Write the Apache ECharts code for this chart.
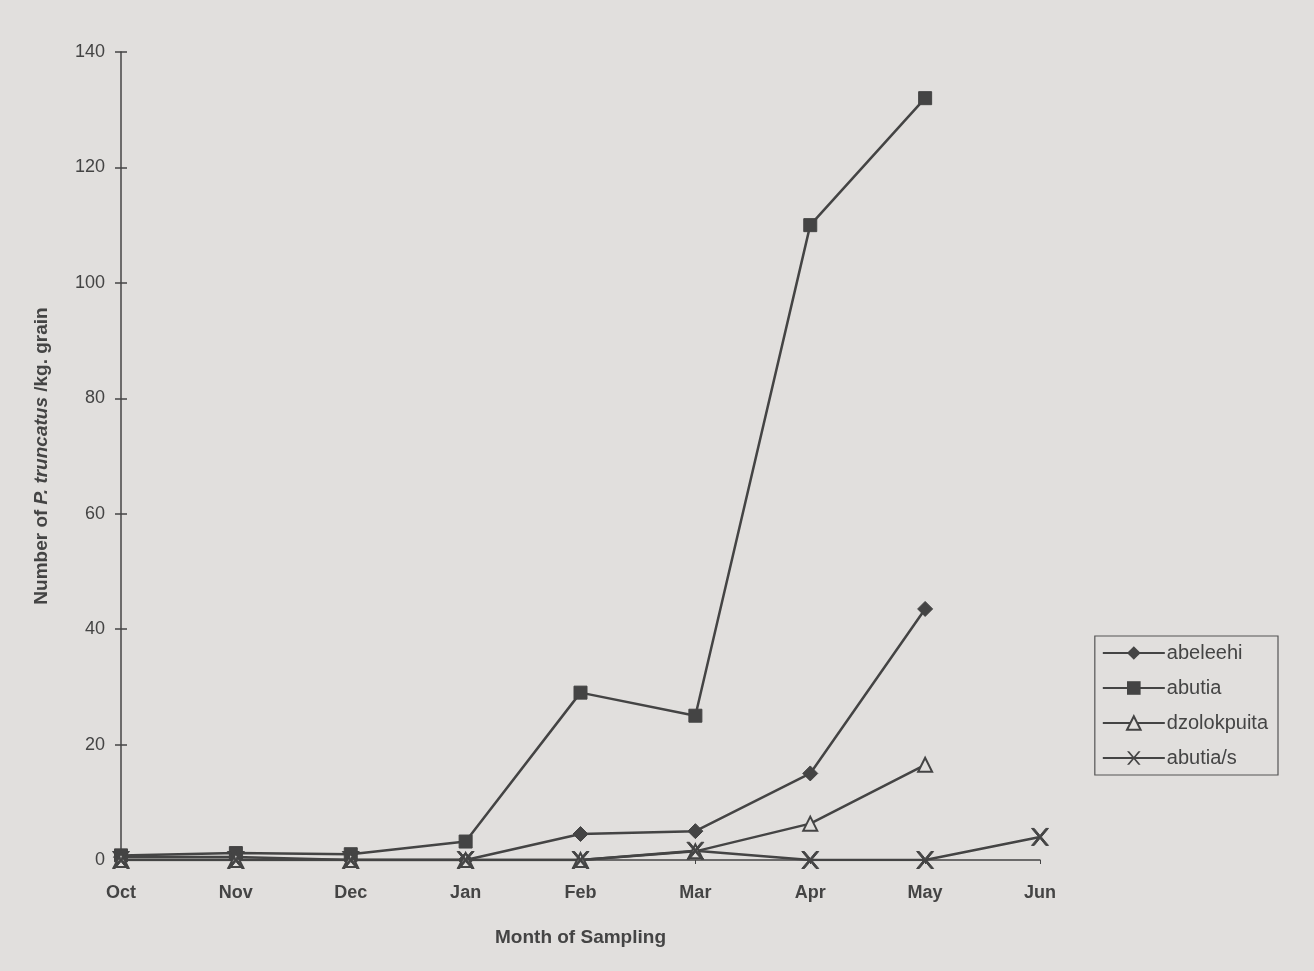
<!DOCTYPE html>
<html><head><meta charset="utf-8">
<script src="https://cdn.jsdelivr.net/npm/echarts@6/dist/echarts.min.js"></script>
<style>html,body{margin:0;padding:0;background:#e1dfdd;}#c{width:1314px;height:971px;}</style>
</head><body><div id="c"></div>
<script>
const months = ['Oct','Nov','Dec','Jan','Feb','Mar','Apr','May','Jun'];
const abeleehi = [0.5, 0.5, 0, 0, 4.5, 5, 15, 43.5, null];
const abutia = [0.8, 1.2, 1, 3.2, 29, 25, 110, 132, null];
const dzolokpuita = [0, 0, 0, 0, 0, 1.5, 6.3, 16.5, null];
const abutiaS = [0, 0, 0, 0, 0, 1.6, 0, 0, 4];
const yTicks = [0, 20, 40, 60, 80, 100, 120, 140];

const ink = '#444';
const xPath = 'path://M0,0 L1.6,0 L5,3.3 L8.4,0 L10,0 L5.8,4 L10,8 L8.4,8 L5,4.7 L1.6,8 L0,8 L4.2,4 Z';
function mk(name, data, symbol, size, extra) {
  return Object.assign({
    name, type: 'line', data, symbol, symbolSize: size,
    lineStyle: { color: ink, width: 2.5 },
    itemStyle: { color: ink, borderColor: ink },
    connectNulls: false, animation: false
  }, extra || {});
}
const chart = echarts.init(document.getElementById('c'));
chart.setOption({
  backgroundColor: '#e1dfdd',
  textStyle: { fontFamily: 'Liberation Sans, Arial, sans-serif' },
  grid: { left: 121, right: 274, top: 52, bottom: 111 },
  legend: {
    orient: 'vertical', right: 36, top: 636,
    itemWidth: 62, itemHeight: 17, itemGap: 15,
    padding: [7, 10, 7, 7],
    backgroundColor: '#e1dfdd', borderColor: '#555', borderWidth: 1.2,
    textStyle: { color: ink, fontSize: 20, padding: [0, 0, 0, -3] },
    data: ['abeleehi', 'abutia', 'dzolokpuita', 'abutia/s']
  },
  xAxis: {
    type: 'category', data: months, boundaryGap: false,
    name: 'Month of Sampling', nameLocation: 'middle', nameGap: 68,
    nameTextStyle: { color: ink, fontSize: 19, fontWeight: 'bold' },
    axisLine: { lineStyle: { color: ink, width: 1.5 } },
    axisTick: { show: true, alignWithLabel: true, length: 4, lineStyle: { color: ink } },
    axisLabel: { color: ink, fontSize: 18, margin: 24, fontWeight: 'bold' }
  },
  yAxis: [{
    type: 'value', min: 0, max: 140, interval: 20,
    name: '{b|Number of }{i|P. truncatus}{b| /kg. grain}',
    nameLocation: 'middle', nameGap: 70, nameRotate: 90,
    nameTextStyle: { rich: {
      b: { fontSize: 19, fontWeight: 'bold', color: ink },
      i: { fontSize: 19, fontWeight: 'bold', fontStyle: 'italic', color: ink }
    } },
    axisLine: { show: true, lineStyle: { color: ink, width: 1.5 } },
    axisTick: { show: true, length: 6, lineStyle: { color: ink, width: 1.5 } },
    axisLabel: { color: ink, fontSize: 18, margin: 16,
      formatter: v => yTicks.includes(v) ? String(v) : '' },
    splitLine: { show: false }
  }, {
    type: 'value', min: 0, max: 140, interval: 20, position: 'left',
    axisLine: { show: false },
    axisTick: { show: true, inside: true, length: 6, lineStyle: { color: ink, width: 1.5 } },
    axisLabel: { show: false }, splitLine: { show: false }
  }],
  series: [
    mk('abeleehi', abeleehi, 'diamond', 15),
    mk('abutia', abutia, 'rect', 13),
    mk('dzolokpuita', dzolokpuita, 'triangle', 14,
      { itemStyle: { color: '#e1dfdd', borderColor: ink, borderWidth: 2 } }),
    mk('abutia/s', abutiaS, xPath, 17)
  ]
});
</script></body></html>
